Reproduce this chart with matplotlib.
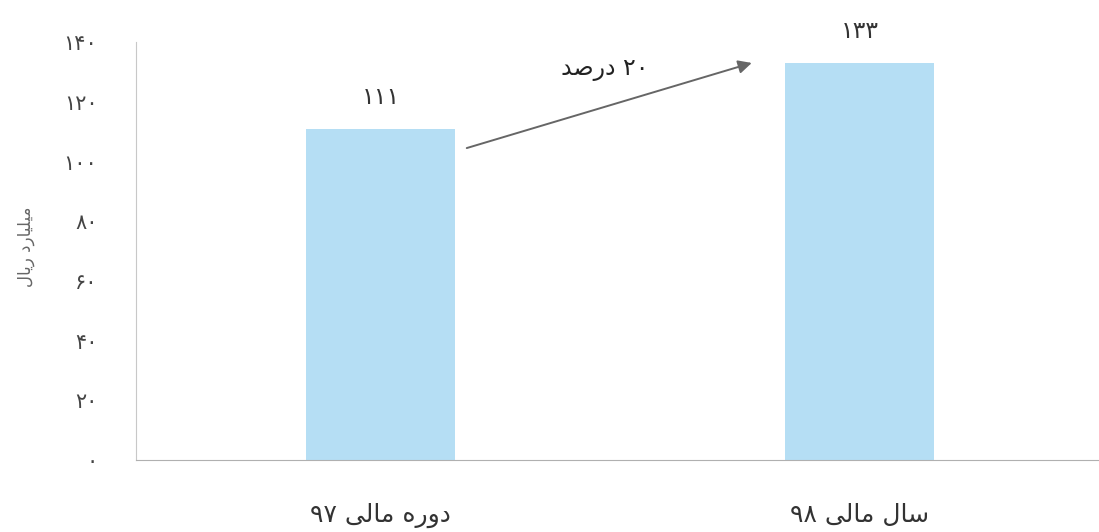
import matplotlib
matplotlib.use("Agg")
import matplotlib.pyplot as plt

categories = ["دوره مالی ۹۷", "سال مالی ۹۸"]
values = [111, 133]
yticks = [0, 20, 40, 60, 80, 100, 120, 140]
ylabel = "میلیارد ریال"
growth_label = "۲۰ درصد"

FA_DIGITS = str.maketrans("0123456789", "۰۱۲۳۴۵۶۷۸۹")

# minimal Arabic-script shaper (presentation forms + visual order)
FORMS = {
    'ا': ('\uFE8D', '\uFE8E', None, None),
    'د': ('\uFEA9', '\uFEAA', None, None),
    'ر': ('\uFEAD', '\uFEAE', None, None),
    'و': ('\uFEED', '\uFEEE', None, None),
    'ه': ('\uFEE9', '\uFEEA', '\uFEEB', '\uFEEC'),
    'م': ('\uFEE1', '\uFEE2', '\uFEE3', '\uFEE4'),
    'ل': ('\uFEDD', '\uFEDE', '\uFEDF', '\uFEE0'),
    'ی': ('\uFEEF', '\uFEF0', '\uFEF3', '\uFEF4'),
    'س': ('\uFEB1', '\uFEB2', '\uFEB3', '\uFEB4'),
    'ص': ('\uFEB9', '\uFEBA', '\uFEBB', '\uFEBC'),
}


def shape_word(w):
    out = []
    for i, ch in enumerate(w):
        if ch not in FORMS:
            out.append(ch)
            continue
        prev = w[i - 1] if i > 0 else None
        nxt = w[i + 1] if i + 1 < len(w) else None
        jp = prev in FORMS and FORMS[prev][2] is not None
        jn = FORMS[ch][2] is not None and nxt in FORMS
        iso, fin, ini, med = FORMS[ch]
        if jp and jn:
            out.append(med)
        elif jp:
            out.append(fin)
        elif jn:
            out.append(ini)
        else:
            out.append(iso)
    return "".join(out)


def is_digits(tok):
    return all(c in "۰۱۲۳۴۵۶۷۸۹0123456789" for c in tok)


def visual(text):
    toks = text.split(" ")
    res = []
    for t in reversed(toks):
        if is_digits(t):
            res.append(t)
        else:
            res.append(shape_word(t)[::-1])
    return " ".join(res)


FONT = ["DejaVu Sans"]
plt.rcParams['font.family'] = FONT

fig = plt.figure(figsize=(10.99, 5.32), dpi=100)
ax = fig.add_axes([0.124, 0.135, 0.876, 0.786])

bar_color = "#b5def4"
x = list(range(len(categories)))
width = 0.31
ax.bar(x, values, width=width, color=bar_color, zorder=2)

ax.set_xlim(-0.51, 1.5)
ax.set_ylim(0, 140)
ax.set_yticks(yticks)
ax.set_yticklabels([str(v).translate(FA_DIGITS) for v in yticks],
                   fontsize=15, color="#444444")
ax.tick_params(axis='y', length=0, pad=28)
ax.set_xticks(x)
ax.set_xticklabels([visual(c) for c in categories], fontsize=18, color="#333333")
ax.tick_params(axis='x', length=0, pad=31)

for s in ["top", "right"]:
    ax.spines[s].set_visible(False)
ax.spines["left"].set_color("#c8c8c8")
ax.spines["bottom"].set_color("#b0b0b0")
ax.spines["left"].set_linewidth(0.8)
ax.spines["bottom"].set_linewidth(0.8)

for xi, v in zip(x, values):
    ax.annotate(str(v).translate(FA_DIGITS), xy=(xi, v), xytext=(0, 23),
                textcoords="offset points", ha="center", va="center",
                fontsize=17, color="#333333")

ax.set_ylabel(visual(ylabel), fontsize=12, color="#666666")
ax.yaxis.set_label_coords(-0.105, 0.51)

# growth arrow between the bars
x0 = x[0] + width / 2 + 0.025
x1 = x[1] - width / 2 - 0.07
ax.annotate("", xy=(x1, values[1]), xytext=(x0, values[0] - 6.5),
            arrowprops=dict(arrowstyle="-|>", color="#666666", lw=1.4,
                            mutation_scale=20, shrinkA=0, shrinkB=0))
ax.text((x0 + x1) / 2 - 0.01, values[1] - 2, visual(growth_label),
        ha="center", va="center", fontsize=17, color="#222222")

fig.savefig("out.png", dpi=100, facecolor="white")
